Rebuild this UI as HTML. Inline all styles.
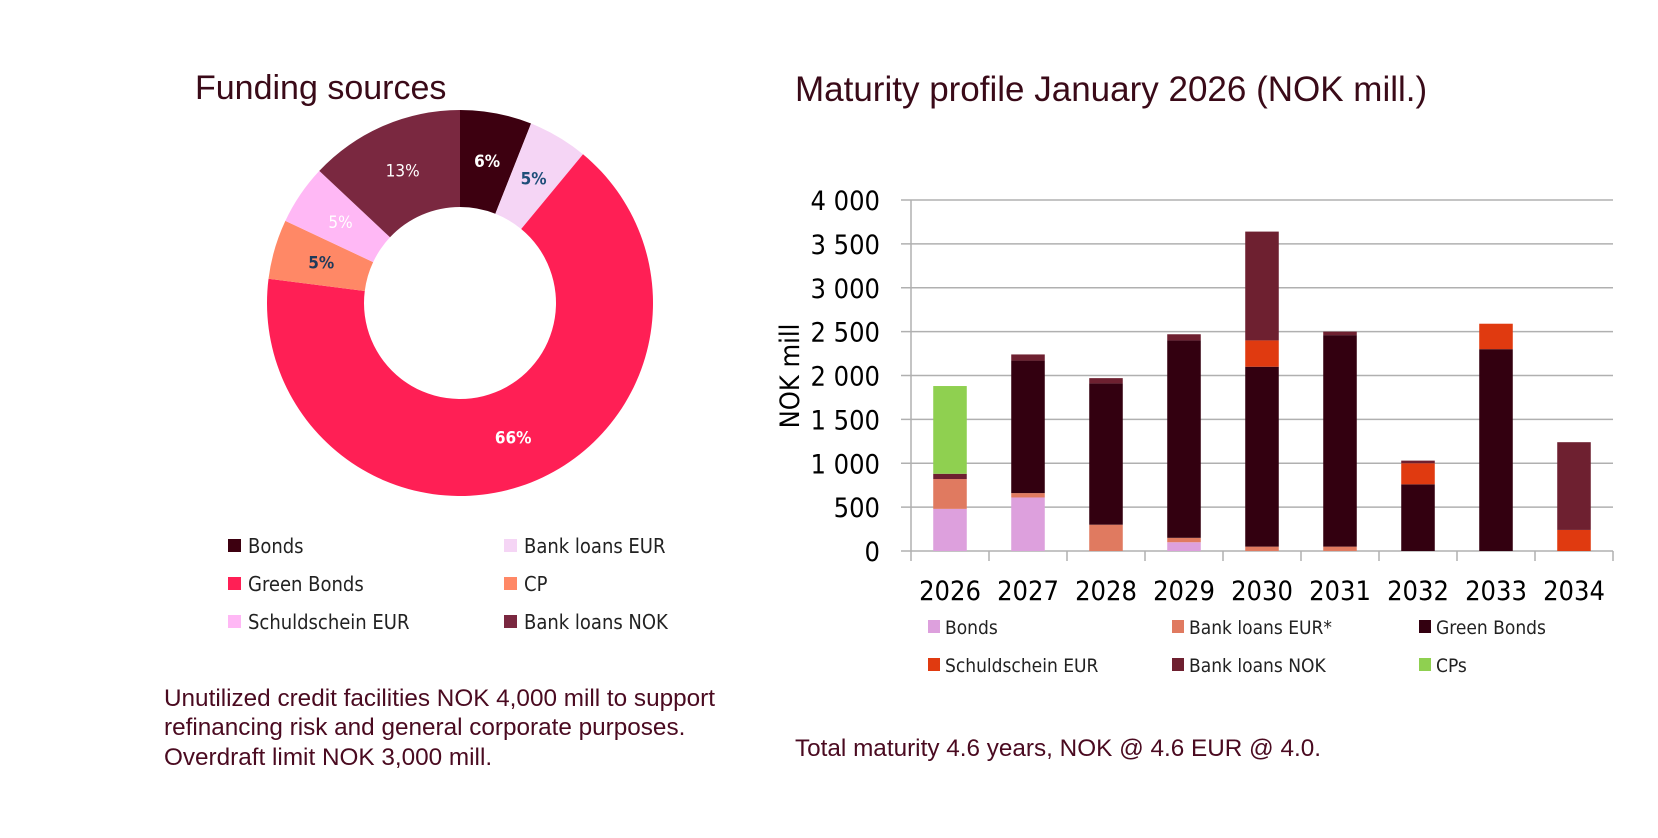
<!DOCTYPE html>
<html><head><meta charset="utf-8"><style>
body{margin:0;width:1658px;height:838px;background:#fff;overflow:hidden;font-family:"Liberation Sans",sans-serif;}
svg{position:absolute;left:0;top:0}
.t{font-family:"Liberation Sans",sans-serif}
.c{font-family:"DejaVu Sans Condensed","Liberation Sans",sans-serif}
</style></head><body>
<svg id="s" width="1658" height="838">
<text class="t" x="195" y="99" font-size="34" fill="#3a0a18">Funding sources</text>
<text class="t" x="795" y="101" font-size="35" fill="#3a0a18">Maturity profile January 2026 (NOK mill.)</text>
<g id="pie"></g>
<g id="pleg"></g>
<g id="bar"></g>
<text class="t" x="164" y="706" font-size="24.3" fill="#4a0a20">Unutilized credit facilities NOK 4,000 mill to support</text>
<text class="t" x="164" y="735" font-size="24.3" fill="#4a0a20">refinancing risk and general corporate purposes.</text>
<text class="t" x="164" y="765" font-size="24.3" fill="#4a0a20">Overdraft limit NOK 3,000 mill.</text>
<text class="t" x="795" y="756" font-size="24.3" fill="#4a0a20">Total maturity 4.6 years, NOK @ 4.6 EUR @ 4.0.</text>
</svg>
<script>
const pieLabels=["Bonds","Bank loans EUR","Green Bonds","CP","Schuldschein EUR","Bank loans NOK"];
const pieValues=[6,5,66,5,5,13];
const pieColors=["#3d0010","#f5d5f5","#ff1f55","#ff8866","#ffb8f5","#7a2840"];
const pieTextColors=["#fff","#1f4e79","#fff","#1f3a5a","#fff","#fff"];
const pieBold=[1,1,1,1,0,0];

const years=["2026","2027","2028","2029","2030","2031","2032","2033","2034"];
const seriesNames=["Bonds","Bank loans EUR*","Green Bonds","Schuldschein EUR","Bank loans NOK","CPs"];
const bonds=[480,610,0,100,0,0,0,0,0];
const bankEur=[340,50,300,50,50,50,0,0,0];
const greenBonds=[0,1510,1610,2250,2050,2410,760,2300,0];
const schuldschein=[0,0,0,0,300,0,240,290,240];
const bankNok=[60,70,60,70,1240,40,30,0,1000];
const cps=[1000,0,0,0,0,0,0,0,0];
const yTicks=[0,500,1000,1500,2000,2500,3000,3500,4000];
const yTickLabels=["0","500","1 000","1 500","2 000","2 500","3 000","3 500","4 000"];

const NS="http://www.w3.org/2000/svg";
function mk(tag,attrs,parent){const e=document.createElementNS(NS,tag);for(const k in attrs)e.setAttribute(k,attrs[k]);parent.appendChild(e);return e;}

const pie=document.getElementById('pie');
const cx=460,cy=303,R=193,r=96;
const tot=pieValues.reduce((a,b)=>a+b,0);
let a0=0;
function pt(rad,ang){return [cx+rad*Math.sin(ang),cy-rad*Math.cos(ang)];}
pieValues.forEach((v,i)=>{
  const a1=a0+v/tot*2*Math.PI;
  const [x1,y1]=pt(R,a0),[x2,y2]=pt(R,a1),[x3,y3]=pt(r,a1),[x4,y4]=pt(r,a0);
  const lg=(a1-a0)>Math.PI?1:0;
  const p=mk('path',{d:`M${x1},${y1}A${R},${R} 0 ${lg} 1 ${x2},${y2}L${x3},${y3}A${r},${r} 0 ${lg} 0 ${x4},${y4}Z`,fill:pieColors[i]},pie);
  
  
  const am=(a0+a1)/2;const [lx,ly]=pt((R+r)/2,am);
  const t=mk('text',{x:lx,y:ly+6,'text-anchor':'middle','font-size':17,fill:pieTextColors[i],'font-weight':pieBold[i]?'bold':'normal',class:'c'},pie);
  t.textContent=v+'%';
  
  
  a0=a1;
});
const pleg=document.getElementById('pleg');
const legOrder=[0,1,2,3,4,5];
legOrder.forEach((i,k)=>{
  const col=k%2,row=Math.floor(k/2);
  const x=col?504:228,y=546+row*38;
  const g=mk('g',{},pleg);
  
  
  mk('rect',{x:x,y:y-7,width:13,height:13,fill:pieColors[i]},g);
  const t=mk('text',{x:x+20,y:y+7,'font-size':20,fill:'#222',class:'c'},g);t.textContent=pieLabels[i];
});

const bar=document.getElementById('bar');
const L=911,Rr=1613,Y0=551,Y4=200;
const ys=v=>Y0-(v/4000)*(Y0-Y4);
const slot=(Rr-L)/years.length;
yTicks.forEach((v,i)=>{
  const y=ys(v);
  const gl=mk('line',{x1:L-10,x2:Rr,y1:y,y2:y,stroke:'#b0b0b0','stroke-width':1.5},bar);
  
  
  const t=mk('text',{x:880,y:y+10,'text-anchor':'end','font-size':27,fill:'#000',class:'c'},bar);t.textContent=yTickLabels[i];
  
  
});
mk('line',{x1:L,x2:L,y1:Y4,y2:Y0+10,stroke:'#b0b0b0','stroke-width':1.5},bar);
const series=[bonds,bankEur,greenBonds,schuldschein,bankNok,cps];
const sColors=["#dda0dd","#e07a60","#330010","#e03a10","#6e2030","#8fd050"];
years.forEach((yr,j)=>{
  const x0=L+slot*j;
  mk('line',{x1:x0+slot,x2:x0+slot,y1:Y0,y2:Y0+10,stroke:'#b0b0b0','stroke-width':1.5},bar);
  let acc=0;
  const bw=slot*0.43,bx=x0+(slot-bw)/2;
  series.forEach((s,k)=>{
    const v=s[j];if(!v)return;
    const rc=mk('rect',{x:bx,y:ys(acc+v),width:bw,height:ys(acc)-ys(acc+v),fill:sColors[k]},bar);
    
    
    acc+=v;
  });
  const t=mk('text',{x:x0+slot/2,y:600,'text-anchor':'middle','font-size':27,fill:'#000',class:'c'},bar);t.textContent=yr;
  
  
});
const yt=mk('text',{x:0,y:0,'text-anchor':'middle','font-size':27,fill:'#000',class:'c',transform:'translate(799,376) rotate(-90)'},bar);yt.textContent='NOK mill';


seriesNames.forEach((n,k)=>{
  const col=k%3,row=Math.floor(k/3);
  const x=[928,1172,1419][col],y=627+row*38;
  const g=mk('g',{},bar);
  
  
  mk('rect',{x:x,y:y-7,width:12,height:13,fill:sColors[k]},g);
  const t=mk('text',{x:x+17,y:y+7,'font-size':19,fill:'#222',class:'c'},g);t.textContent=n;
});
</script>
</body></html>
